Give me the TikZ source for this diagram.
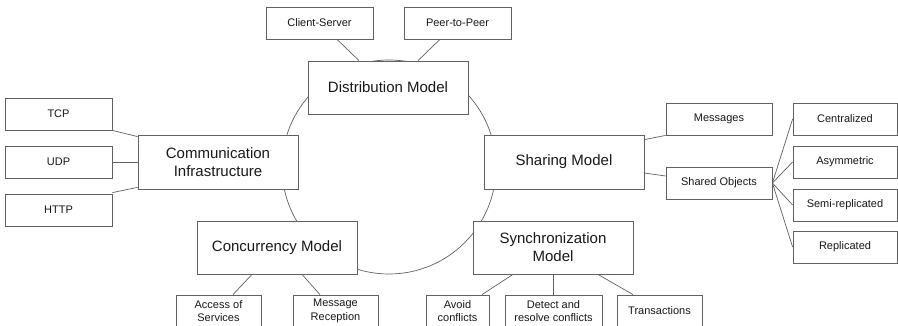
\documentclass[tikz,border=0pt]{standalone}
\usepackage{fontspec}
\setmainfont{Liberation Sans}
\begin{document}
\begin{tikzpicture}[x=1pt,y=-1pt,
  box/.style={draw=black!62,line width=0.8pt,fill=white,inner sep=0pt,align=center,text=black!90},
  big/.style={box,minimum width=160pt,font=\fontsize{15}{18}\selectfont},
  small/.style={box,minimum width=107pt,minimum height=32pt,font=\fontsize{11}{13.3}\selectfont},
  link/.style={draw=black!62,line width=0.7pt}]
\path[use as bounding box,clip] (0,0) rectangle (898,326);
\fill[white] (0,0) rectangle (898,326);
\draw[link] (389,167) circle [radius=107pt];
% main nodes
\node[big,minimum height=53pt] (dist) at (388,87.5) {Distribution Model};
\node[big,minimum height=54pt] (comm) at (218,162) {Communication\\Infrastructure};
\node[big,minimum height=53pt] (conc) at (277,247.5) {Concurrency Model};
\node[big,minimum height=53pt] (sync) at (553,247.5) {Synchronization\\Model};
\node[big,minimum height=54pt] (share) at (564,162) {Sharing Model};
% distribution
\node[small] (cs) at (319.5,23) {Client-Server};
\node[small] (p2p) at (457.5,23) {Peer-to-Peer};
% communication
\node[small] (tcp) at (58.5,114) {TCP};
\node[small] (udp) at (58.5,162) {UDP};
\node[small] (http) at (58.5,210) {HTTP};
% sharing
\node[small,minimum width=106pt] (msg) at (719,119) {Messages};
\node[small,minimum width=106pt] (so) at (719,183) {Shared Objects};
\node[small,minimum width=104pt] (cent) at (845,119) {Centralized};
\node[small,minimum width=104pt] (asym) at (845,162) {Asymmetric};
\node[small,minimum width=104pt] (semi) at (845,205) {Semi-replicated};
\node[small,minimum width=104pt] (repl) at (845,247) {Replicated};
% concurrency
\node[small,minimum width=85pt] (acc) at (218.5,311) {Access of\\Services};
\node[small,minimum width=85pt] (rec) at (335.5,311) {Message\\Reception};
% synchronization
\node[small,minimum width=63pt] (avoid) at (457.5,311) {Avoid\\conflicts};
\node[small,minimum width=97pt] (detect) at (553.5,311) {Detect and\\resolve conflicts};
\node[small,minimum width=85pt] (trans) at (659.5,311) {Transactions};
% connectors
\draw[link] ([xshift=17.5pt]cs.south) -- ([xshift=-29pt]dist.north);
\draw[link] ([xshift=-17.5pt]p2p.south) -- ([xshift=30pt]dist.north);
\draw[link] (tcp.south east) -- ([yshift=-2pt]comm.north west);
\draw[link] (udp.east) -- (comm.west);
\draw[link] ([yshift=1pt]http.north east) -- ([yshift=2pt]comm.south west);
\draw[link] ([xshift=-25pt]conc.south) -- ([xshift=14.5pt]acc.north);
\draw[link] ([xshift=25pt]conc.south) -- ([xshift=-15.5pt]rec.north);
\draw[link] ([xshift=-40pt]sync.south) -- ([xshift=24.5pt]avoid.north);
\draw[link] (sync.south) -- (sync.south |- detect.north);
\draw[link] ([xshift=45pt]sync.south) -- ([xshift=-26.5pt]trans.north);
\draw[link] ([yshift=-5pt]share.north east) -- (msg.south west);
\draw[link] ([yshift=-11pt]share.east) -- ([yshift=7pt]so.west);
\draw[link] (so.east) -- (cent.west);
\draw[link] (so.east) -- (asym.west);
\draw[link] (so.east) -- (semi.west);
\draw[link] (so.east) -- (repl.west);
\end{tikzpicture}
\end{document}
